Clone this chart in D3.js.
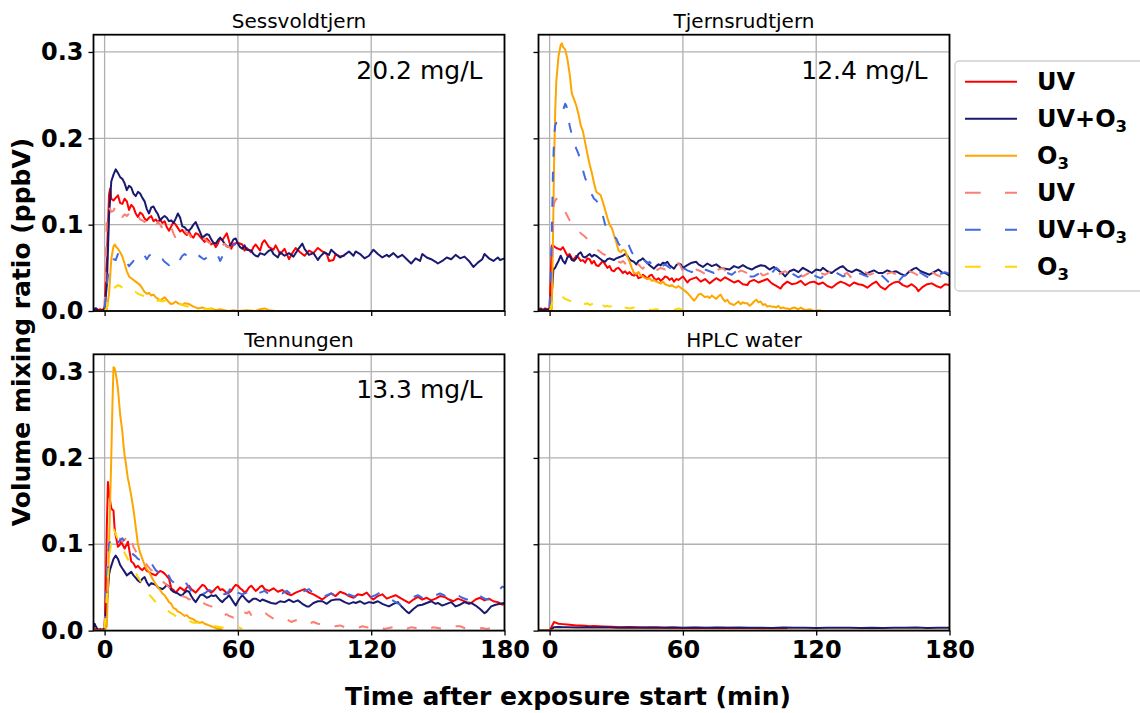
<!DOCTYPE html>
<html>
<head>
<meta charset="utf-8">
<script src="https://cdn.jsdelivr.net/npm/d3@7"></script>
<style>
body { margin: 0; background: #fff; }
text { font-family: "DejaVu Sans", sans-serif; }
</style>
</head>
<body>
<div id="chart"></div>
<script>
const FWIDTH = 1140,
    FHEIGHT = 713;

// values, [minutes, ppbV]
const sess_UV = [[-5,0.002],[-4,0.003],[-3,0.001],[-2,0.002],[-1,0.001],[0,0.004],[1,0.06],[2,0.135],[2.5,0.142],[3,0.13],[4,0.128],[5,0.131],[6,0.134],[7,0.125],[8,0.124],[9,0.13],[10,0.127],[11,0.117],[12,0.123],[13,0.12],[14,0.113],[15,0.109],[16,0.114],[17,0.112],[18,0.107],[19,0.105],[20,0.108],[21,0.11],[22,0.104],[23,0.106],[24,0.103],[25,0.106],[26,0.102],[27,0.104],[28,0.097],[29,0.093],[30,0.098],[31,0.103],[32,0.1],[33,0.096],[34,0.092],[35,0.094],[36,0.09],[37,0.088],[38,0.092],[39,0.087],[40,0.085],[41,0.09],[42,0.089],[43,0.086],[44,0.083],[45,0.08],[46,0.084],[47,0.081],[48,0.077],[49,0.079],[50,0.074],[51,0.078],[52,0.084],[53,0.082],[54,0.086],[55,0.09],[56,0.081],[57,0.072],[58,0.078],[60,0.079],[62,0.077],[63,0.07],[64,0.073],[66,0.068],[67,0.074],[68,0.077],[70,0.07],[71,0.079],[72,0.082],[74,0.074],[76,0.071],[77,0.076],[79,0.066],[81,0.072],[83,0.06],[84,0.065],[86,0.073],[88,0.068],[90,0.064],[92,0.07],[94,0.067],[96,0.073],[98,0.069],[100,0.066],[101,0.058],[103,0.059],[104,0.066],[106,0.063],[108,0.064]];
const sess_UVO3 = [[-5,0.001],[-4,0.003],[-3,0.001],[-2,0],[-1,0.001],[0,0.002],[1,0.03],[2,0.11],[3,0.15],[4,0.158],[5,0.164],[6,0.16],[7,0.155],[8,0.153],[9,0.148],[10,0.14],[11,0.145],[12,0.143],[13,0.136],[14,0.133],[15,0.138],[16,0.136],[17,0.131],[18,0.127],[19,0.118],[20,0.113],[21,0.12],[22,0.121],[23,0.116],[24,0.112],[25,0.105],[26,0.108],[27,0.11],[28,0.108],[29,0.104],[30,0.105],[31,0.102],[32,0.107],[33,0.113],[34,0.108],[35,0.098],[36,0.097],[37,0.094],[38,0.093],[39,0.096],[40,0.1],[41,0.103],[42,0.097],[43,0.091],[44,0.085],[45,0.087],[46,0.089],[47,0.088],[48,0.083],[49,0.079],[50,0.078],[51,0.082],[52,0.085],[53,0.082],[54,0.078],[55,0.075],[56,0.074],[57,0.078],[58,0.083],[59,0.084],[60,0.078],[61,0.074],[62,0.072],[63,0.076],[64,0.071],[66,0.07],[67,0.066],[68,0.064],[69,0.063],[70,0.067],[72,0.065],[74,0.07],[75,0.071],[76,0.066],[78,0.062],[79,0.068],[81,0.064],[83,0.067],[85,0.063],[87,0.071],[89,0.078],[90,0.072],[92,0.065],[94,0.067],[96,0.059],[97,0.063],[99,0.068],[101,0.065],[102,0.071],[104,0.066],[106,0.062],[108,0.065],[110,0.069],[112,0.064],[113,0.069],[115,0.066],[117,0.061],[119,0.064],[121,0.071],[123,0.066],[125,0.062],[127,0.065],[128,0.063],[130,0.067],[132,0.062],[134,0.065],[136,0.06],[138,0.055],[140,0.061],[142,0.058],[143,0.066],[145,0.062],[147,0.06],[149,0.057],[150,0.055],[152,0.058],[154,0.062],[156,0.06],[158,0.065],[160,0.061],[162,0.063],[164,0.058],[166,0.051],[168,0.056],[170,0.06],[171,0.066],[173,0.061],[175,0.058],[177,0.062],[178,0.059],[180,0.061]];
const sess_O3 = [[-5,0],[0,0],[1,0.002],[2,0.02],[3,0.06],[4,0.075],[4.6,0.077],[5,0.075],[6,0.072],[7,0.068],[8,0.063],[9,0.055],[10,0.046],[11,0.04],[12,0.038],[13,0.036],[14,0.034],[15,0.032],[16,0.03],[17,0.026],[18,0.022],[19,0.02],[20,0.021],[21,0.018],[22,0.019],[23,0.016],[24,0.014],[25,0.012],[26,0.014],[27,0.016],[28,0.013],[29,0.01],[30,0.008],[31,0.009],[32,0.011],[33,0.009],[34,0.008],[35,0.007],[36,0.009],[38,0.008],[40,0.005],[42,0.003],[44,0.004],[46,0.002],[48,0.003],[50,0.001],[52,0.002],[54,0.001],[56,0],[58,0.001],[60,0],[64,0.001],[68,0],[70,0.002],[72,0.003],[74,0.001],[77,0]];
const sess_UV_d = [[0,0.005],[1,0.109],[2,0.12],[3,0.115],[4,0.116],[5,0.122],[6,0.118],[7,0.113],[8,0.109],[9,0.112],[10,0.11],[11,0.113],[12,0.115],[13,0.117],[14,0.116],[15,0.11],[16,0.106],[17,0.105],[18,0.103],[19,0.106],[20,0.104],[21,0.103],[22,0.1],[23,0.098],[24,0.103],[25,0.1],[26,0.096],[27,0.093],[28,0.091],[29,0.095],[30,0.097],[31,0.09],[32,0.084],[33,0.082],[34,0.085],[35,0.09],[36,0.093],[37,0.09],[38,0.089],[39,0.085],[40,0.082],[41,0.083],[42,0.086],[43,0.085],[44,0.083],[45,0.084],[46,0.081],[47,0.079],[48,0.078],[49,0.075],[50,0.074],[51,0.077],[52,0.078],[53,0.076],[54,0.078],[55,0.075],[56,0.074],[57,0.073],[58,0.074]];
const sess_UVO3_d = [[0,0.003],[1,0.03],[2,0.05],[3,0.055],[4,0.06],[5,0.059],[6,0.066],[7,0.062],[8,0.058],[9,0.055],[10,0.056],[11,0.052],[12,0.055],[13,0.058],[14,0.055],[15,0.056],[16,0.06],[17,0.062],[18,0.064],[19,0.06],[20,0.064],[21,0.066],[22,0.062],[23,0.061],[24,0.063],[25,0.061],[26,0.06],[27,0.057],[28,0.055],[29,0.053],[30,0.058],[31,0.06],[32,0.061],[33,0.063],[34,0.06],[35,0.064],[36,0.066],[37,0.064],[38,0.062],[39,0.061],[40,0.064],[41,0.066],[42,0.065],[43,0.063],[44,0.061],[45,0.06],[46,0.062],[47,0.064],[48,0.061],[49,0.063],[50,0.062],[51,0.064],[52,0.058],[53,0.063],[54,0.066],[55,0.07],[56,0.072],[57,0.074],[58,0.076],[59,0.078]];
const sess_O3_d = [[0,0],[1,0.004],[2,0.012],[3,0.02],[4,0.026],[5,0.028],[6,0.03],[7,0.029],[8,0.027],[9,0.025],[10,0.024],[11,0.022],[12,0.02],[13,0.021],[14,0.022],[15,0.02],[16,0.019],[17,0.018],[18,0.017],[19,0.016],[20,0.014],[21,0.013],[22,0.011],[23,0.01],[24,0.012],[25,0.013],[26,0.011],[27,0.012],[28,0.011],[29,0.012],[30,0.01],[31,0.009],[32,0.008],[33,0.007],[34,0.008],[36,0.006],[38,0.005],[40,0.004],[42,0.003],[44,0.003],[46,0.002],[48,0.002],[50,0.001],[53,0.001]];

const tje_UV = [[-5,0.002],[-4,0.003],[-3,0.001],[-2,0.003],[-1,0.002],[0,0.003],[0.5,0.04],[1,0.076],[2,0.075],[3,0.073],[4,0.072],[5,0.071],[6,0.074],[7,0.069],[8,0.064],[9,0.066],[10,0.061],[11,0.06],[12,0.064],[13,0.062],[14,0.058],[15,0.059],[16,0.056],[17,0.061],[18,0.06],[19,0.055],[20,0.058],[21,0.053],[22,0.052],[23,0.055],[24,0.058],[25,0.054],[26,0.05],[27,0.052],[28,0.047],[29,0.046],[30,0.049],[31,0.05],[32,0.047],[33,0.044],[34,0.046],[35,0.043],[36,0.045],[37,0.042],[38,0.041],[39,0.043],[40,0.038],[41,0.039],[42,0.042],[43,0.04],[44,0.037],[45,0.041],[46,0.042],[47,0.038],[48,0.036],[49,0.038],[50,0.035],[51,0.037],[52,0.04],[53,0.039],[54,0.036],[55,0.038],[56,0.034],[57,0.037],[58,0.036],[60,0.04],[62,0.033],[63,0.036],[65,0.038],[66,0.039],[68,0.034],[70,0.037],[72,0.032],[73,0.034],[75,0.038],[77,0.035],[79,0.039],[81,0.036],[83,0.033],[85,0.035],[87,0.031],[89,0.03],[90,0.034],[92,0.036],[94,0.033],[96,0.035],[98,0.037],[100,0.032],[102,0.029],[104,0.026],[105,0.03],[107,0.034],[109,0.031],[111,0.032],[113,0.035],[115,0.03],[117,0.033],[119,0.034],[121,0.031],[123,0.033],[125,0.029],[127,0.027],[129,0.031],[131,0.034],[133,0.032],[135,0.029],[137,0.033],[139,0.031],[141,0.03],[143,0.027],[145,0.031],[147,0.034],[149,0.028],[151,0.025],[153,0.03],[155,0.033],[157,0.034],[159,0.03],[161,0.028],[163,0.031],[165,0.027],[166,0.023],[168,0.028],[170,0.031],[172,0.032],[174,0.029],[176,0.027],[178,0.031],[180,0.03]];
const tje_UVO3 = [[-5,0.001],[-4,0.002],[-3,0.001],[-2,0.002],[-1,0.001],[0,0.002],[1,0.02],[1.7,0.048],[2.5,0.05],[3,0.053],[4,0.058],[5,0.064],[6,0.058],[7,0.055],[8,0.062],[9,0.064],[10,0.059],[11,0.058],[12,0.061],[13,0.066],[14,0.068],[15,0.063],[16,0.062],[17,0.064],[18,0.066],[19,0.063],[20,0.065],[21,0.064],[22,0.062],[23,0.06],[24,0.058],[25,0.057],[26,0.06],[27,0.061],[28,0.06],[29,0.059],[30,0.061],[31,0.062],[32,0.063],[33,0.064],[34,0.066],[35,0.064],[36,0.06],[37,0.058],[38,0.057],[39,0.054],[40,0.058],[41,0.059],[42,0.061],[43,0.058],[44,0.056],[45,0.053],[46,0.051],[47,0.049],[48,0.052],[49,0.054],[50,0.053],[51,0.056],[52,0.055],[53,0.057],[54,0.053],[55,0.051],[56,0.049],[57,0.053],[58,0.055],[59,0.054],[60,0.05],[62,0.053],[64,0.056],[66,0.057],[67,0.054],[69,0.051],[71,0.055],[73,0.052],[75,0.054],[77,0.05],[79,0.049],[81,0.048],[83,0.052],[85,0.05],[87,0.053],[89,0.05],[91,0.048],[93,0.051],[95,0.053],[97,0.052],[99,0.048],[101,0.051],[103,0.047],[105,0.043],[106,0.04],[108,0.046],[110,0.048],[112,0.045],[114,0.05],[116,0.047],[118,0.044],[120,0.048],[122,0.047],[123,0.05],[125,0.046],[127,0.044],[129,0.048],[131,0.051],[132,0.052],[134,0.047],[136,0.045],[138,0.048],[140,0.046],[142,0.042],[144,0.045],[146,0.047],[148,0.044],[150,0.044],[152,0.047],[154,0.045],[156,0.046],[158,0.043],[160,0.041],[162,0.046],[164,0.049],[165,0.05],[167,0.046],[169,0.044],[171,0.042],[173,0.045],[175,0.048],[177,0.044],[178,0.044],[180,0.041]];
const tje_O3 = [[-5,0],[0,0],[1,0.002],[1.5,0.08],[2,0.17],[2.5,0.23],[3,0.265],[4,0.295],[5,0.308],[5.5,0.31],[6,0.306],[7,0.303],[8,0.292],[9,0.275],[10,0.252],[11,0.245],[12,0.238],[13,0.228],[14,0.215],[15,0.208],[16,0.195],[17,0.182],[18,0.17],[19,0.16],[20,0.148],[21,0.138],[22,0.136],[23,0.134],[24,0.126],[25,0.117],[26,0.108],[27,0.1],[28,0.096],[29,0.088],[30,0.08],[31,0.07],[32,0.068],[33,0.071],[34,0.07],[35,0.063],[36,0.057],[37,0.05],[38,0.044],[39,0.043],[40,0.045],[41,0.041],[42,0.04],[43,0.038],[44,0.037],[45,0.038],[46,0.035],[47,0.036],[48,0.034],[49,0.033],[50,0.032],[51,0.034],[52,0.031],[53,0.03],[54,0.029],[55,0.03],[56,0.028],[57,0.027],[58,0.029],[59,0.027],[60,0.025],[61,0.023],[62,0.021],[63,0.018],[64,0.015],[65,0.012],[66,0.015],[67,0.019],[68,0.02],[69,0.018],[70,0.016],[71,0.017],[72,0.015],[73,0.018],[74,0.016],[75,0.014],[76,0.017],[77,0.019],[78,0.014],[79,0.011],[80,0.013],[81,0.009],[82,0.008],[83,0.007],[84,0.009],[85,0.011],[86,0.008],[87,0.01],[88,0.009],[89,0.009],[90,0.006],[91,0.008],[92,0.011],[93,0.013],[94,0.01],[95,0.011],[96,0.007],[97,0.008],[98,0.005],[99,0.006],[100,0.005],[101,0.005],[102,0.004],[103,0.006],[104,0.003],[105,0.004],[106,0.003],[107,0.003],[108,0.002],[110,0.004],[112,0.002],[113,0.004],[115,0.001],[117,0.002],[119,0],[121,0.001],[123,0],[125,0]];
const tje_UV_d = [[0,0.005],[1,0.05],[1.5,0.1],[2,0.125],[3,0.13],[4,0.125],[5,0.12],[6,0.118],[7,0.115],[8,0.11],[9,0.105],[10,0.102],[11,0.1],[12,0.098],[13,0.094],[14,0.09],[15,0.088],[16,0.086],[17,0.083],[18,0.08],[19,0.078],[20,0.075],[21,0.072],[22,0.07],[23,0.068],[24,0.066],[25,0.065],[26,0.063],[27,0.062],[28,0.06],[29,0.058],[30,0.059],[31,0.057],[32,0.056],[33,0.058],[34,0.055],[35,0.053],[36,0.055],[37,0.052],[38,0.05],[39,0.052],[40,0.054],[41,0.051],[42,0.049],[43,0.052],[44,0.05],[45,0.048],[46,0.05],[48,0.047],[50,0.05],[52,0.048],[54,0.051],[56,0.049],[58,0.055],[59,0.052],[60,0.046],[62,0.048],[64,0.045],[66,0.048],[68,0.046],[70,0.043],[72,0.046],[74,0.044],[76,0.048],[78,0.05],[80,0.044],[82,0.046],[84,0.043],[86,0.047],[88,0.045],[90,0.042],[92,0.044],[94,0.046],[96,0.041],[98,0.043],[100,0.046],[102,0.039],[104,0.044],[106,0.046],[108,0.043],[110,0.041],[112,0.044],[114,0.04],[116,0.043],[118,0.046],[120,0.041],[122,0.044],[124,0.042],[126,0.045],[128,0.043],[130,0.04],[132,0.042],[134,0.044],[136,0.038],[138,0.041],[140,0.043],[142,0.045],[144,0.042],[146,0.044],[148,0.041],[150,0.039],[152,0.043],[154,0.045],[156,0.042],[158,0.04],[160,0.043],[162,0.046],[164,0.044],[166,0.041],[168,0.04],[170,0.043],[172,0.045],[174,0.042],[176,0.04],[178,0.043],[180,0.044]];
const tje_UVO3_d = [[0,0.005],[0.5,0.04],[1,0.09],[1.5,0.16],[2,0.2],[2.5,0.215],[3,0.218],[4,0.222],[5,0.226],[6,0.232],[7,0.24],[7.5,0.238],[8,0.232],[9,0.215],[10,0.204],[11,0.195],[12,0.188],[13,0.182],[14,0.172],[15,0.163],[16,0.154],[17,0.148],[18,0.142],[19,0.135],[20,0.13],[21,0.128],[22,0.124],[23,0.118],[24,0.11],[25,0.1],[26,0.094],[27,0.092],[28,0.089],[29,0.086],[30,0.084],[31,0.078],[32,0.075],[33,0.074],[34,0.077],[35,0.081],[36,0.074],[37,0.068],[38,0.064],[39,0.066],[40,0.065],[41,0.062],[42,0.06],[43,0.058],[44,0.055],[45,0.057],[46,0.054],[47,0.052],[48,0.05],[49,0.053],[50,0.051],[52,0.054],[54,0.05],[56,0.048],[58,0.052],[60,0.05],[62,0.047],[64,0.045],[66,0.05],[68,0.052],[70,0.048],[72,0.046],[74,0.044],[76,0.047],[78,0.043],[80,0.044],[82,0.042],[84,0.046],[86,0.044],[88,0.041],[90,0.04],[92,0.04],[94,0.043],[96,0.045],[98,0.047],[100,0.044],[102,0.05],[104,0.046],[106,0.043],[108,0.045],[110,0.042],[112,0.039],[114,0.042],[116,0.045],[118,0.043],[120,0.04],[122,0.038],[124,0.042],[126,0.044],[128,0.046],[130,0.043],[132,0.04],[134,0.042],[136,0.044],[138,0.046],[140,0.043],[142,0.041],[144,0.039],[146,0.042],[148,0.044],[150,0.04],[152,0.035],[154,0.03],[155,0.028],[157,0.034],[159,0.04],[161,0.043],[163,0.046],[165,0.048],[167,0.044],[169,0.041],[171,0.038],[173,0.036],[175,0.042],[177,0.044],[178,0.045],[180,0.043]];
const tje_O3_d = [[0,0],[1,0.008],[2,0.015],[3,0.018],[4,0.02],[5,0.017],[6,0.016],[7,0.014],[8,0.013],[9,0.012],[10,0.011],[11,0.012],[12,0.01],[13,0.009],[14,0.011],[15,0.01],[16,0.008],[17,0.009],[18,0.007],[19,0.008],[20,0.009],[21,0.007],[22,0.01],[23,0.012],[24,0.007],[25,0.005],[26,0.006],[27,0.005],[28,0.006],[29,0.004],[30,0.005],[31,0.007],[32,0.005],[34,0.004],[36,0.003],[38,0.004],[40,0.002],[42,0.003],[44,0.002],[46,0.001],[48,0.002],[50,0.001],[52,0.001],[54,0.002],[56,0.001],[58,0.003],[60,0.001]];

const ten_UV = [[-5,0.001],[-4,0.002],[-3,0.001],[-2,0.002],[-1,0.001],[0,0.002],[0.5,0.05],[1,0.12],[1.5,0.172],[2,0.16],[2.5,0.15],[3,0.142],[3.5,0.14],[4,0.139],[4.5,0.118],[5,0.11],[6,0.097],[7,0.1],[7.5,0.106],[8,0.1],[9,0.095],[10,0.1],[10.5,0.103],[11,0.095],[12,0.08],[13,0.078],[14,0.073],[15,0.075],[16,0.072],[17,0.07],[18,0.073],[19,0.069],[20,0.068],[21,0.066],[22,0.065],[23,0.064],[24,0.067],[25,0.069],[26,0.068],[27,0.066],[28,0.063],[29,0.06],[30,0.049],[31,0.047],[32,0.044],[33,0.047],[34,0.05],[35,0.048],[36,0.046],[37,0.05],[38,0.052],[39,0.048],[40,0.046],[41,0.044],[42,0.047],[43,0.05],[44,0.053],[45,0.052],[46,0.048],[47,0.046],[48,0.044],[49,0.046],[50,0.049],[51,0.051],[52,0.047],[53,0.048],[54,0.046],[55,0.043],[56,0.044],[57,0.046],[58,0.05],[59,0.053],[60,0.052],[61,0.049],[62,0.047],[63,0.044],[64,0.046],[65,0.05],[66,0.052],[67,0.049],[68,0.046],[69,0.048],[70,0.051],[71,0.052],[72,0.048],[74,0.046],[76,0.049],[78,0.045],[80,0.047],[82,0.043],[84,0.041],[86,0.044],[88,0.046],[90,0.048],[92,0.044],[94,0.042],[96,0.039],[98,0.036],[100,0.04],[102,0.043],[104,0.04],[106,0.045],[108,0.043],[110,0.04],[112,0.038],[114,0.042],[116,0.041],[118,0.044],[120,0.038],[121,0.036],[123,0.04],[125,0.042],[127,0.037],[129,0.039],[131,0.041],[133,0.038],[135,0.035],[137,0.032],[139,0.036],[141,0.039],[143,0.036],[145,0.038],[147,0.035],[149,0.037],[151,0.04],[153,0.039],[155,0.036],[157,0.034],[159,0.037],[161,0.035],[163,0.033],[165,0.032],[167,0.036],[169,0.038],[171,0.035],[173,0.037],[175,0.034],[177,0.033],[179,0.03],[180,0.031]];
const ten_UVO3 = [[-5,0.003],[-4.5,0.008],[-4,0.005],[-3,0.001],[-2,0],[-1,0.001],[0,0.002],[1,0.03],[2,0.065],[2.5,0.071],[3,0.075],[4,0.083],[5,0.087],[6,0.083],[7,0.076],[8,0.072],[9,0.068],[10,0.064],[11,0.066],[12,0.068],[13,0.064],[14,0.061],[15,0.058],[16,0.056],[17,0.06],[18,0.062],[19,0.056],[20,0.052],[21,0.055],[22,0.054],[23,0.053],[24,0.05],[25,0.049],[26,0.048],[27,0.05],[28,0.053],[29,0.051],[30,0.047],[31,0.045],[32,0.044],[33,0.043],[34,0.041],[35,0.041],[36,0.044],[37,0.046],[38,0.045],[39,0.04],[40,0.036],[41,0.033],[42,0.037],[43,0.041],[44,0.042],[45,0.04],[46,0.038],[47,0.039],[48,0.041],[49,0.04],[50,0.041],[51,0.038],[52,0.035],[53,0.033],[54,0.036],[55,0.038],[56,0.041],[57,0.037],[58,0.033],[59,0.029],[60,0.034],[61,0.038],[62,0.041],[63,0.038],[64,0.035],[65,0.033],[66,0.035],[67,0.037],[68,0.037],[70,0.034],[71,0.036],[73,0.034],[75,0.032],[77,0.031],[79,0.034],[81,0.033],[83,0.036],[85,0.033],[87,0.035],[89,0.031],[91,0.028],[92,0.028],[94,0.032],[96,0.034],[98,0.034],[100,0.031],[102,0.035],[104,0.036],[106,0.036],[108,0.033],[110,0.031],[112,0.033],[113,0.032],[115,0.034],[117,0.031],[119,0.033],[121,0.032],[123,0.034],[125,0.031],[127,0.029],[128,0.028],[130,0.031],[132,0.033],[134,0.027],[136,0.022],[137,0.02],[139,0.025],[141,0.029],[143,0.03],[145,0.032],[147,0.034],[149,0.031],[150,0.032],[152,0.029],[154,0.031],[156,0.033],[158,0.028],[160,0.03],[162,0.033],[164,0.031],[165,0.032],[167,0.029],[169,0.025],[171,0.02],[172,0.022],[174,0.028],[176,0.03],[178,0.031],[180,0.032]];
const ten_O3 = [[-5,0],[0,0],[1,0.005],[1.5,0.05],[2,0.1],[2.5,0.15],[3,0.2],[3.5,0.26],[4,0.305],[4.5,0.304],[5,0.298],[5.5,0.29],[6,0.28],[6.5,0.265],[7,0.25],[7.5,0.24],[8,0.23],[8.5,0.215],[9,0.203],[9.5,0.195],[10,0.185],[10.5,0.176],[11,0.17],[12,0.156],[13,0.14],[14,0.12],[15,0.1],[16,0.09],[17,0.083],[18,0.076],[19,0.071],[20,0.068],[21,0.063],[22,0.058],[23,0.054],[24,0.05],[25,0.047],[26,0.043],[27,0.041],[28,0.037],[29,0.033],[30,0.031],[31,0.026],[32,0.025],[33,0.022],[34,0.021],[35,0.019],[36,0.017],[37,0.018],[38,0.015],[39,0.014],[40,0.013],[41,0.011],[42,0.01],[43,0.009],[44,0.01],[45,0.008],[46,0.007],[47,0.006],[48,0.005],[49,0.004],[50,0.003],[51,0.002],[52,0.002],[53,0.001]];
const ten_UV_d = [[0,0.005],[1,0.06],[1.5,0.09],[2,0.1],[3,0.105],[4,0.108],[5,0.112],[6,0.11],[7,0.106],[8,0.103],[9,0.105],[10,0.108],[11,0.112],[12,0.104],[13,0.097],[14,0.092],[15,0.088],[16,0.086],[17,0.084],[18,0.08],[19,0.076],[20,0.073],[21,0.07],[22,0.069],[23,0.066],[24,0.063],[25,0.06],[26,0.057],[27,0.055],[28,0.053],[29,0.05],[30,0.048],[31,0.046],[32,0.044],[33,0.045],[34,0.042],[35,0.04],[36,0.039],[37,0.038],[38,0.036],[39,0.037],[40,0.035],[41,0.034],[42,0.036],[43,0.035],[44,0.033],[45,0.031],[46,0.03],[47,0.029],[48,0.028],[49,0.027],[50,0.026],[51,0.024],[52,0.022],[53,0.02],[54,0.018],[55,0.019],[56,0.017],[57,0.016],[58,0.015],[59,0.017],[60,0.02],[61,0.022],[62,0.019],[63,0.021],[64,0.02],[65,0.022],[66,0.018],[68,0.016],[70,0.019],[72,0.021],[74,0.017],[76,0.014],[78,0.012],[80,0.011],[82,0.013],[84,0.01],[86,0.012],[88,0.01],[90,0.011],[92,0.008],[94,0.01],[96,0.008],[98,0.007],[100,0.008],[102,0.006],[104,0.005],[106,0.006],[108,0.004],[110,0.005],[112,0.004],[114,0.003],[116,0.005],[118,0.004],[120,0.002],[122,0.003],[124,0.004],[126,0.002],[128,0.003],[130,0.004],[132,0.002],[134,0.003],[136,0.002],[138,0.004],[140,0.003],[142,0.002],[144,0.003],[146,0.002],[148,0.004],[150,0.003],[152,0.002],[154,0.003],[156,0.004],[158,0.005],[160,0.005],[162,0.003],[164,0.002],[166,0.003],[168,0.002],[170,0.003],[172,0.002],[174,0.003],[176,0.001],[178,0.002],[180,0.003]];
const ten_UVO3_d = [[0,0.005],[0.5,0.03],[1,0.06],[2,0.1],[3,0.108],[4,0.104],[5,0.1],[6,0.102],[7,0.105],[8,0.107],[9,0.103],[10,0.098],[11,0.094],[12,0.09],[13,0.088],[14,0.086],[15,0.083],[16,0.082],[17,0.08],[18,0.081],[19,0.079],[20,0.08],[21,0.078],[22,0.074],[23,0.07],[24,0.068],[25,0.066],[26,0.069],[27,0.071],[28,0.068],[29,0.063],[30,0.058],[31,0.056],[32,0.054],[33,0.055],[34,0.052],[35,0.054],[36,0.056],[37,0.054],[38,0.05],[39,0.046],[40,0.045],[41,0.047],[42,0.049],[43,0.046],[44,0.044],[45,0.043],[46,0.045],[47,0.047],[48,0.046],[49,0.043],[50,0.041],[51,0.043],[52,0.045],[53,0.044],[54,0.042],[55,0.043],[56,0.046],[57,0.05],[58,0.054],[59,0.048],[60,0.044],[62,0.042],[64,0.044],[65,0.047],[66,0.045],[68,0.042],[70,0.044],[72,0.046],[74,0.042],[76,0.041],[78,0.044],[80,0.043],[82,0.046],[84,0.042],[86,0.04],[88,0.043],[90,0.046],[92,0.048],[94,0.043],[96,0.04],[98,0.038],[100,0.041],[102,0.043],[104,0.04],[106,0.037],[108,0.039],[110,0.042],[112,0.04],[114,0.038],[116,0.04],[118,0.041],[120,0.039],[122,0.041],[124,0.044],[125,0.043],[127,0.04],[129,0.036],[131,0.033],[133,0.03],[135,0.034],[137,0.037],[139,0.039],[141,0.041],[143,0.038],[145,0.036],[147,0.039],[149,0.041],[151,0.043],[152,0.042],[154,0.039],[156,0.037],[158,0.04],[159,0.041],[161,0.038],[163,0.036],[165,0.039],[167,0.043],[169,0.04],[171,0.037],[173,0.036],[175,0.04],[177,0.045],[178,0.048],[179,0.051],[180,0.05]];
const ten_O3_d = [[0,0.003],[1,0.04],[2,0.08],[3,0.105],[4,0.118],[5,0.112],[6,0.105],[7,0.1],[8,0.095],[9,0.09],[10,0.085],[11,0.08],[12,0.075],[13,0.07],[14,0.067],[15,0.062],[16,0.058],[17,0.054],[18,0.05],[19,0.046],[20,0.042],[21,0.039],[22,0.036],[23,0.033],[24,0.03],[25,0.028],[26,0.027],[27,0.026],[28,0.024],[29,0.022],[30,0.02],[31,0.019],[32,0.017],[33,0.016],[34,0.015],[35,0.013],[36,0.012],[37,0.011],[38,0.012],[39,0.01],[40,0.009],[42,0.009],[44,0.008],[46,0.007],[48,0.006],[50,0.005],[52,0.004],[54,0.003],[56,0.004],[58,0.003],[60,0.004],[62,0.002]];

const hplc_UV = [[-5,0],[0,0],[1,0.005],[2,0.01],[3,0.009],[4,0.008],[6,0.0075],[8,0.007],[10,0.0065],[12,0.006],[14,0.0058],[16,0.0055],[18,0.005],[20,0.0052],[24,0.0048],[28,0.0045],[32,0.004],[36,0.0042],[40,0.004],[44,0.0035],[48,0.0038],[52,0.0033],[56,0.0035],[60,0.003],[66,0.0033],[72,0.003],[78,0.0032],[84,0.0029],[90,0.003],[96,0.0028],[102,0.003],[107,0.0028]];
const hplc_UVO3 = [[-5,0],[0,0],[1,0.002],[2,0.004],[4,0.0042],[6,0.0038],[8,0.004],[12,0.0036],[16,0.004],[20,0.0035],[25,0.0038],[30,0.0034],[35,0.0037],[40,0.0033],[45,0.0036],[50,0.0032],[55,0.0035],[60,0.0034],[65,0.0036],[70,0.0032],[75,0.0035],[80,0.0033],[85,0.0036],[90,0.0032],[95,0.0034],[100,0.0031],[105,0.0035],[110,0.0033],[115,0.0034],[120,0.0031],[125,0.0034],[130,0.0032],[135,0.0034],[140,0.003],[145,0.0033],[150,0.0031],[155,0.0034],[160,0.0032],[165,0.0035],[170,0.0031],[175,0.0033],[180,0.0032]];
const hplc_O3 = [[-5,0],[180,0]];

const panelNames = ["Sessvoldtjern", "Tjernsrudtjern", "Tennungen", "HPLC water"];
const panelDOC = ["20.2 mg/L", "12.4 mg/L", "13.3 mg/L", ""];
const panelSeries = [
    [sess_UV, sess_UVO3, sess_O3, sess_UV_d, sess_UVO3_d, sess_O3_d],
    [tje_UV, tje_UVO3, tje_O3, tje_UV_d, tje_UVO3_d, tje_O3_d],
    [ten_UV, ten_UVO3, ten_O3, ten_UV_d, ten_UVO3_d, ten_O3_d],
    [hplc_UV, hplc_UVO3, hplc_O3, [], [], []]
];
const seriesNames = ["UV", "UV+O", "O", "UV", "UV+O", "O"];
const seriesSub = ["", "3", "3", "", "3", "3"];
const seriesColors = ["red", "midnightblue", "orange", "salmon", "royalblue", "gold"];
const seriesDashed = [false, false, false, true, true, true];
const xTicks = [0, 60, 120, 180];
const yTicks = [0, 0.1, 0.2, 0.3];

const P_LEFT = [93.5, 538.5],
    P_TOP = [34.7, 354.3],
    P_W = 411,
    P_H = 276.3;

const svg = d3.select("#chart")
    .append("svg")
    .attr("width", FWIDTH)
    .attr("height", FHEIGHT)
    .style("background", "#fff");

const x = d3.scaleLinear().domain([-5, 180]).range([0, P_W]);
const y = d3.scaleLinear().domain([0, 0.32]).range([P_H, 0]);

const line = d3.line()
    .x((d) => x(d[0]))
    .y((d) => y(d[1]));

const defs = svg.append("defs");

panelNames.forEach(function (name, i) {
    const col = i % 2,
        row = Math.floor(i / 2);
    const g = svg.append("g")
        .attr("transform", `translate(${P_LEFT[col]},${P_TOP[row]})`);

    defs.append("clipPath")
        .attr("id", "clip" + i)
        .append("rect")
        .attr("width", P_W)
        .attr("height", P_H);

    // grid
    g.selectAll(".gx")
        .data(xTicks)
        .join("line")
        .attr("x1", (d) => x(d))
        .attr("x2", (d) => x(d))
        .attr("y1", 0)
        .attr("y2", P_H)
        .attr("stroke", "#b0b0b0")
        .attr("stroke-width", 1.3);
    g.selectAll(".gy")
        .data(yTicks)
        .join("line")
        .attr("x1", 0)
        .attr("x2", P_W)
        .attr("y1", (d) => y(d))
        .attr("y2", (d) => y(d))
        .attr("stroke", "#b0b0b0")
        .attr("stroke-width", 1.3);

    const lines = g.append("g").attr("clip-path", `url(#clip${i})`);
    panelSeries[i].forEach(function (data, k) {
        if (data.length === 0) return;
        lines.append("path")
            .datum(data)
            .attr("d", line)
            .attr("fill", "none")
            .attr("stroke", seriesColors[k])
            .attr("stroke-width", 2)
            .attr("stroke-linejoin", "round")
            .attr("stroke-dasharray", seriesDashed[k] ? "10,15" : null);
    });

    // axes
    const xAxis = g.append("g")
        .attr("transform", `translate(0,${P_H})`)
        .call(d3.axisBottom(x)
            .tickValues(xTicks)
            .tickSize(5)
            .tickPadding(5)
            .tickFormat(row === 1 ? d3.format("d") : () => ""));
    const yAxis = g.append("g")
        .call(d3.axisLeft(y)
            .tickValues(yTicks)
            .tickSize(5)
            .tickPadding(5)
            .tickFormat(col === 0 ? d3.format(".1f") : () => ""));
    [xAxis, yAxis].forEach(function (ax) {
        ax.select(".domain").remove();
        ax.selectAll("line").attr("stroke", "#000").attr("stroke-width", 1.3);
        ax.selectAll("text")
            .attr("fill", "#000")
            .attr("font-family", "DejaVu Sans")
            .attr("font-size", 24)
            .attr("font-weight", "bold");
    });

    g.append("rect")
        .attr("width", P_W)
        .attr("height", P_H)
        .attr("fill", "none")
        .attr("stroke", "#000")
        .attr("stroke-width", 1.8);

    g.append("text")
        .text(name)
        .attr("x", P_W / 2)
        .attr("y", -7)
        .attr("text-anchor", "middle")
        .attr("font-size", 20);

    g.append("text")
        .text(panelDOC[i])
        .attr("x", P_W - 22)
        .attr("y", 44)
        .attr("text-anchor", "end")
        .attr("font-size", 25);
});

svg.append("text")
    .text("Volume mixing ratio (ppbV)")
    .attr("transform", "translate(30,332) rotate(-90)")
    .attr("text-anchor", "middle")
    .attr("font-size", 25)
    .attr("font-weight", "bold");

svg.append("text")
    .text("Time after exposure start (min)")
    .attr("x", 568)
    .attr("y", 705)
    .attr("text-anchor", "middle")
    .attr("font-size", 25)
    .attr("font-weight", "bold");

// legend
const legend = svg.append("g").attr("transform", "translate(955,61)");
legend.append("rect")
    .attr("width", 200)
    .attr("height", 230)
    .attr("rx", 4)
    .attr("fill", "#fff")
    .attr("stroke", "#d0d0d0")
    .attr("stroke-width", 1.3);

seriesNames.forEach(function (label, k) {
    const ly = 20.7 + k * 37;
    legend.append("line")
        .attr("x1", 10)
        .attr("x2", 62)
        .attr("y1", ly)
        .attr("y2", ly)
        .attr("stroke", seriesColors[k])
        .attr("stroke-width", 2)
        .attr("stroke-dasharray", seriesDashed[k] ? "15.7,24.3" : null);
    const t = legend.append("text")
        .attr("x", 82)
        .attr("y", ly + 8.5)
        .attr("font-size", 24)
        .attr("font-weight", "bold")
        .text(label);
    if (seriesSub[k] !== "") {
        t.append("tspan")
            .attr("dy", 4.5)
            .attr("font-size", 16.5)
            .text(seriesSub[k]);
    }
});
</script>
</body>
</html>
